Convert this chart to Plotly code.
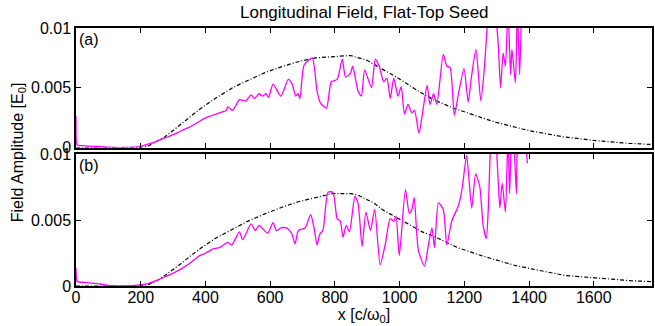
import plotly.graph_objects as go

# ---- data ----
xa = [0, 2, 6, 20, 50, 100, 150, 197, 225, 248, 275, 299, 325, 351, 382, 402, 422, 443, 464, 469,
      484, 505, 525, 541, 551, 566, 576, 587, 595, 609, 633, 656, 668, 679, 686, 692, 705, 730, 745,
      756, 774, 789, 807, 823, 833, 848, 855, 872, 882, 892, 913, 925, 937, 951, 961, 971, 982, 995,
      1005, 1015, 1026, 1038, 1046, 1060, 1071, 1085, 1094, 1105, 1115, 1135, 1146, 1156, 1169, 1182,
      1199, 1212, 1222, 1236, 1251, 1262, 1272, 1285, 1299, 1305, 1312, 1320, 1327, 1335, 1343, 1347,
      1352, 1358, 1364, 1371, 1376]
ya = [0.0026, 0.0003, 0.00018, 0.00015, 0.0001, 0.00002, 0.0, 0.00007, 0.0003, 0.0005, 0.0008, 0.00105,
      0.0014, 0.0017, 0.0022, 0.0025, 0.0027, 0.0029, 0.0031, 0.0034, 0.0031, 0.004, 0.0039, 0.0044,
      0.0041, 0.0045, 0.0043, 0.0045, 0.0042, 0.0053, 0.0043, 0.0057, 0.0053, 0.0043, 0.0045, 0.0041,
      0.0069, 0.0075, 0.0047, 0.0037, 0.0033, 0.0055, 0.0057, 0.0074, 0.0059, 0.0062, 0.0068, 0.0047,
      0.0043, 0.0065, 0.005, 0.0074, 0.0068, 0.0055, 0.0058, 0.0041, 0.0058, 0.0043, 0.0051, 0.0028,
      0.0036, 0.0029, 0.0031, 0.0012, 0.0029, 0.0052, 0.0036, 0.0045, 0.0036, 0.0078, 0.0068, 0.0067,
      0.0027, 0.0045, 0.0066, 0.0038, 0.0059, 0.0082, 0.0039, 0.0067, 0.0105, 0.0135, 0.0105, 0.0086,
      0.005, 0.0079, 0.0068, 0.0115, 0.0061, 0.0082, 0.0070, 0.0054, 0.0115, 0.0061, 0.0105]

xa_env = [0, 200, 225, 250, 275, 299, 340, 382, 430, 484, 530, 587, 640, 689, 740, 792, 848, 899, 951,
          1002, 1053, 1105, 1166, 1207, 1253, 1299, 1350, 1402, 1505, 1607, 1710, 1780]
ya_env = [0, 0, 0.00015, 0.0005, 0.0009, 0.0014, 0.0023, 0.0032, 0.0041, 0.005, 0.0056, 0.0063, 0.0068,
          0.0072, 0.0075, 0.0076, 0.0077, 0.0073, 0.0065, 0.0057, 0.0048, 0.0040, 0.0033, 0.0029, 0.0025,
          0.0021, 0.00175, 0.0014, 0.0009, 0.00057, 0.00035, 0.00025]

xb = [0, 2, 4, 33, 74, 100, 150, 197, 225, 248, 275, 299, 325, 351, 382, 402, 422, 443, 469, 481, 505,
      515, 541, 554, 566, 592, 609, 619, 633, 650, 666, 677, 687, 708, 725, 735, 745, 753, 763, 779, 794,
      807, 817, 825, 835, 845, 862, 872, 884, 896, 910, 923, 940, 956, 971, 982, 989, 999, 1018, 1030,
      1038, 1045, 1058, 1077, 1089, 1100, 1108, 1120, 1135, 1146, 1161, 1182, 1194, 1207, 1223, 1235,
      1248, 1258, 1268, 1274, 1286, 1299, 1305, 1310, 1317, 1327, 1335, 1340, 1347, 1354, 1361, 1366,
      1380, 1395]
yb = [0.00134, 0.0004, 0.00033, 0.00025, 0.00015, 0.00005, 0.0, 0.00008, 0.0002, 0.0004, 0.0007,
      0.00096, 0.0013, 0.0017, 0.0023, 0.0025, 0.0028, 0.0029, 0.0033, 0.0031, 0.0041, 0.0035, 0.0047,
      0.0042, 0.0046, 0.004, 0.0048, 0.0042, 0.0044, 0.0044, 0.004, 0.0032, 0.0042, 0.0044, 0.0054,
      0.0045, 0.0031, 0.0039, 0.0042, 0.0071, 0.0071, 0.0051, 0.0049, 0.0037, 0.0046, 0.0041, 0.0068,
      0.0062, 0.003, 0.0056, 0.0042, 0.0058, 0.0016, 0.0032, 0.0051, 0.0049, 0.0053, 0.0023, 0.0073,
      0.0055, 0.0058, 0.0067, 0.0027, 0.0015, 0.0031, 0.0044, 0.0029, 0.0063, 0.0058, 0.0031, 0.0049,
      0.0061, 0.0075, 0.0099, 0.0059, 0.0085, 0.0075, 0.0046, 0.0036, 0.0058, 0.013, 0.0105, 0.0078,
      0.0059, 0.0078, 0.0056, 0.0115, 0.007, 0.012, 0.0105, 0.007, 0.0115, 0.0125, 0.0093]

xb_env = [0, 200, 225, 250, 275, 299, 325, 350, 382, 430, 484, 530, 587, 640, 689, 740, 792, 850, 870,
          894, 920, 946, 1005, 1070, 1120, 1180, 1253, 1305, 1350, 1407, 1510, 1612, 1714, 1780]
yb_env = [0, 0, 0.00012, 0.0004, 0.0008, 0.0012, 0.0017, 0.0022, 0.0028, 0.0036, 0.0043, 0.0049,
          0.0055, 0.006, 0.0064, 0.0067, 0.0070, 0.0070, 0.0069, 0.0066, 0.0063, 0.0058, 0.005, 0.0041,
          0.0036, 0.0029, 0.0023, 0.0019, 0.0016, 0.0013, 0.0008, 0.0006, 0.0004, 0.00033]

x_ticks = [0, 200, 400, 600, 800, 1000, 1200, 1400, 1600]
y_ticks = [0, 0.005, 0.01]
y_ticktext = ["0", "0.005", "0.01"]

FONT = "Liberation Sans, Arial, Helvetica, sans-serif"
MAG = "#ff00ff"
DASH = "4px,2px,1px,2px"

fig = go.Figure()
fig.add_trace(go.Scatter(x=xa_env, y=ya_env, mode="lines", line=dict(color="black", width=1.2, dash=DASH),
                         xaxis="x", yaxis="y", showlegend=False))
fig.add_trace(go.Scatter(x=xa, y=ya, mode="lines", line=dict(color=MAG, width=1.3, shape="spline", smoothing=0.6),
                         xaxis="x", yaxis="y", showlegend=False))
fig.add_trace(go.Scatter(x=xb_env, y=yb_env, mode="lines", line=dict(color="black", width=1.2, dash=DASH),
                         xaxis="x2", yaxis="y2", showlegend=False))
fig.add_trace(go.Scatter(x=xb, y=yb, mode="lines", line=dict(color=MAG, width=1.3, shape="spline", smoothing=0.6),
                         xaxis="x2", yaxis="y2", showlegend=False))

axis_common = dict(showline=True, linecolor="black", linewidth=1.5, mirror="ticks", ticks="inside",
                   ticklen=5, tickcolor="black", tickwidth=1, showgrid=False, zeroline=False,
                   tickfont=dict(family=FONT, size=16, color="black"))

fig.update_layout(
    width=655, height=326,
    margin=dict(l=76, r=1, t=28, b=40),
    paper_bgcolor="white", plot_bgcolor="white",
    font=dict(family=FONT, size=16, color="black"),
    xaxis=dict(domain=[0, 1], range=[0, 1780], tickvals=x_ticks, showticklabels=False, anchor="y", **axis_common),
    yaxis=dict(domain=[0.5368, 1.0], range=[0, 0.01], tickvals=y_ticks, ticktext=y_ticktext, anchor="x", **axis_common),
    xaxis2=dict(domain=[0, 1], range=[0, 1780], tickvals=x_ticks, anchor="y2", ticklabelstandoff=-4,
                title=dict(text="x [c/ω<sub>0</sub>]", standoff=0, font=dict(family=FONT, size=16)), **axis_common),
    yaxis2=dict(domain=[0, 0.5116], range=[0, 0.01], tickvals=y_ticks, ticktext=y_ticktext, anchor="x2", **axis_common),
    annotations=[
        dict(text="Longitudinal Field, Flat-Top Seed", xref="paper", yref="paper", x=0.5, y=1.0, yshift=4,
             xanchor="center", yanchor="bottom", showarrow=False, font=dict(family=FONT, size=17)),
        dict(text="(a)", xref="x domain", yref="y domain", x=0.002, y=0.995, xanchor="left", yanchor="top",
             showarrow=False, font=dict(family=FONT, size=16)),
        dict(text="(b)", xref="x2 domain", yref="y2 domain", x=0.002, y=0.995, xanchor="left", yanchor="top",
             showarrow=False, font=dict(family=FONT, size=16)),
        dict(text="Field Amplitude [E<sub>0</sub>]", xref="paper", yref="paper", x=-0.1, y=0.52,
             xanchor="center", yanchor="middle", textangle=-90, showarrow=False, font=dict(family=FONT, size=16)),
    ],
)

fig.write_html("out.html")
